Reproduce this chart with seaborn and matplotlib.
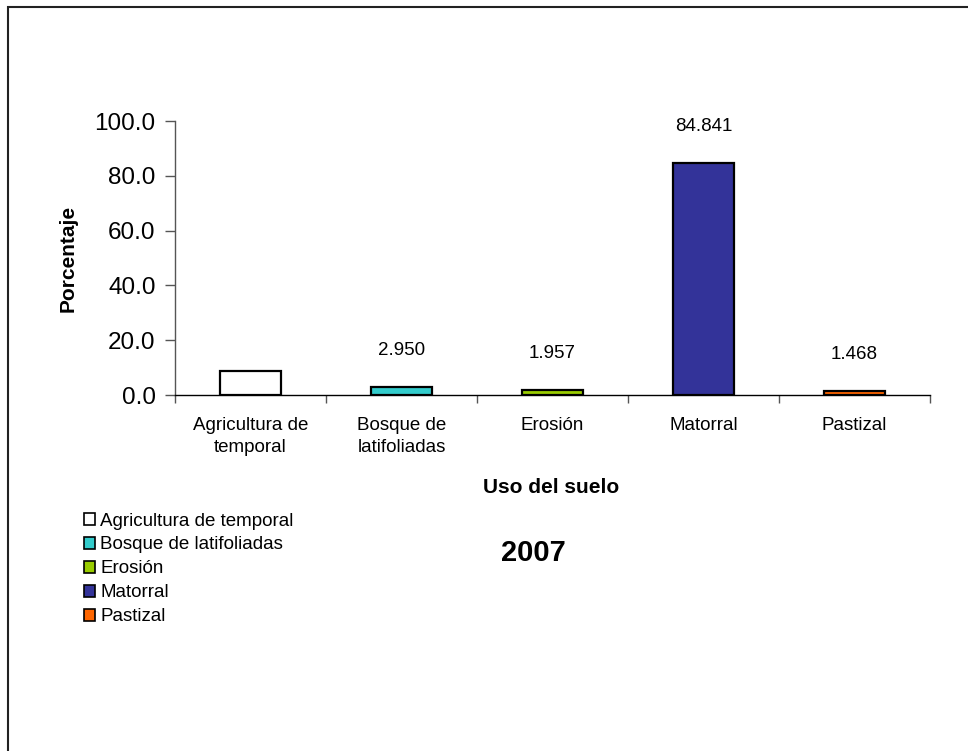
import matplotlib
matplotlib.use("Agg")
import matplotlib.pyplot as plt
import matplotlib.patches as mpatches
import seaborn as sns
import pandas as pd

categories = ["Agricultura de temporal", "Bosque de latifoliadas", "Erosión", "Matorral", "Pastizal"]
tick_labels = ["Agricultura de\ntemporal", "Bosque de\nlatifoliadas", "Erosión", "Matorral", "Pastizal"]
values = [8.784, 2.950, 1.957, 84.841, 1.468]
value_labels = [None, "2.950", "1.957", "84.841", "1.468"]
colors = ["#FFFFFF", "#33CCCC", "#99CC00", "#333399", "#FF6600"]
yticks = [0, 20, 40, 60, 80, 100]

sns.set_theme(style="white")
plt.rcParams["font.family"] = ["Liberation Sans", "DejaVu Sans"]
plt.rcParams["text.color"] = "black"
plt.rcParams["xtick.color"] = "black"
plt.rcParams["ytick.color"] = "black"
plt.rcParams["axes.labelcolor"] = "black"

df = pd.DataFrame({"cat": categories, "val": values})

W, H = 968, 751
fig = plt.figure(figsize=(W / 100, H / 100), dpi=100)
ax = fig.add_axes([175 / W, 1 - 395 / H, (930 - 175) / W, (395 - 121) / H])

sns.barplot(data=df, x="cat", y="val", hue="cat", palette=dict(zip(categories, colors)),
            order=categories, hue_order=categories, width=0.4, edgecolor="black",
            linewidth=1.6, legend=False, ax=ax, dodge=False, saturation=1)

ax.set_xlim(-0.5, len(categories) - 0.5)
ax.set_ylim(0, 100)
ax.set_yticks(yticks)
ax.set_yticklabels([f"{v:.1f}" for v in yticks], fontsize=17.5)
ax.tick_params(axis="y", direction="out", length=7, width=1, color="#555555", pad=7, left=True)

ax.set_xticks([i - 0.5 for i in range(len(categories) + 1)])
ax.set_xticklabels([])
ax.set_xticks(list(range(len(categories))), minor=True)
ax.set_xticklabels(tick_labels, minor=True, fontsize=13.5, linespacing=1.4)
ax.tick_params(axis="x", which="major", direction="out", length=6, width=1, color="#555555", bottom=True)
ax.tick_params(axis="x", which="minor", length=0, pad=16)

for s in ["top", "right"]:
    ax.spines[s].set_visible(False)
ax.spines["left"].set_color("#555555")
ax.spines["bottom"].set_color("black")
ax.spines["left"].set_linewidth(1)
ax.spines["bottom"].set_linewidth(1)

for i, (v, lab) in enumerate(zip(values, value_labels)):
    if lab:
        ax.annotate(lab, (i, v), xytext=(0, 20), textcoords="offset points",
                    ha="center", va="bottom", fontsize=13.5)

ax.set_xlabel("Uso del suelo", fontsize=15, fontweight="bold")
ax.set_ylabel("Porcentaje", fontsize=15, fontweight="bold")
ax.xaxis.set_label_coords((551 - 175) / (930 - 175), -(478 - 395) / (395 - 121))
ax.yaxis.set_label_coords(-(175 - 78) / (930 - 175), (395 - 258) / (395 - 121))

handles = [mpatches.Patch(facecolor=c, edgecolor="black", linewidth=1.2, label=l)
           for c, l in zip(colors, categories)]
fig.legend(handles=handles, loc="upper left", bbox_to_anchor=(76 / W, 1 - 505 / H),
           frameon=False, fontsize=13.5, handlelength=0.6, handleheight=0.6,
           handletextpad=0.3, labelspacing=0.37, borderaxespad=0)

fig.text(533 / W, 1 - 553 / H, "2007", ha="center", va="center", fontsize=21, fontweight="bold")

border = mpatches.Rectangle((8 / W, -0.05), 1.1, 1 - 7 / H + 0.05, transform=fig.transFigure,
                            fill=False, edgecolor="#222222", linewidth=1.5, clip_on=False)
fig.patches.append(border)

fig.savefig("out.png", dpi=100)
